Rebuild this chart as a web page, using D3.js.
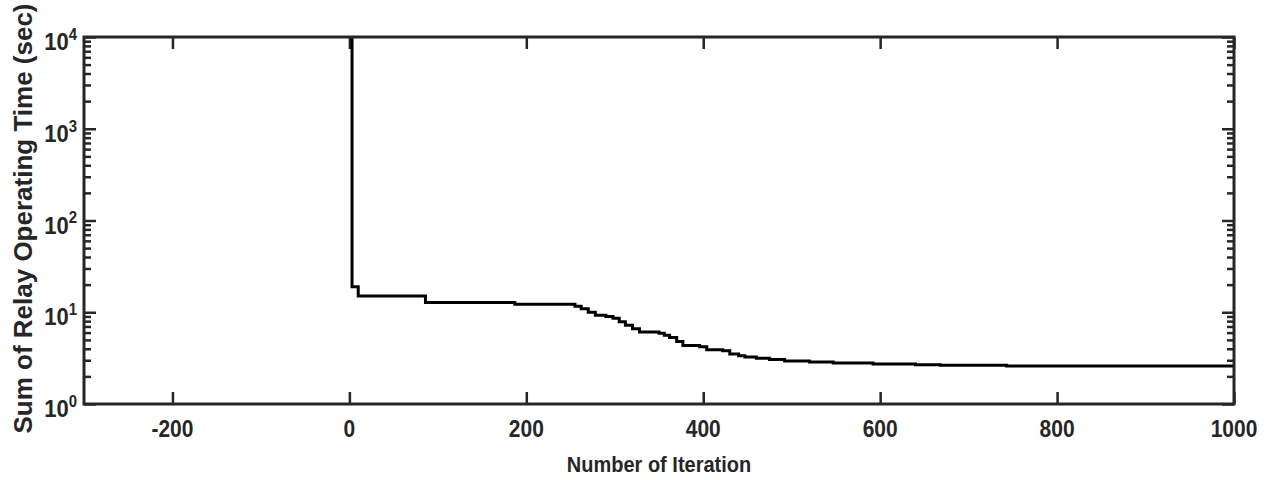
<!DOCTYPE html>
<html>
<head>
<meta charset="utf-8">
<script src="https://cdn.jsdelivr.net/npm/d3@7"></script>
<style>
    body { margin: 0; background: #fff; }
    text { font-family: "Liberation Sans", Arial, sans-serif; font-weight: bold; fill: #262626; }
</style>
</head>
<body>
<div id="chart"></div>
<script>
// best-so-far curve (step after each point)
const iterations = [1, 3, 10, 86, 187, 255, 262, 270, 278, 290, 298, 305, 312, 320, 328, 350, 356, 362, 370, 377, 396, 404, 422, 430, 440, 447, 460, 475, 492, 520, 547, 592, 640, 668, 743, 1000];
const sumTime = [10000, 19, 15, 12.8, 12.2, 11.6, 10.9, 10.0, 9.3, 9.0, 8.6, 7.9, 7.2, 6.6, 6.1, 5.9, 5.6, 5.3, 4.8, 4.35, 4.2, 3.9, 3.8, 3.5, 3.35, 3.25, 3.15, 3.05, 2.95, 2.87, 2.80, 2.73, 2.68, 2.65, 2.59, 2.59];

const xTicks = [-200, 0, 200, 400, 600, 800, 1000];
const yTicks = [1, 10, 100, 1000, 10000];
const yExponents = ["0", "1", "2", "3", "4"];

const margin = { top: 37, right: 39, bottom: 76, left: 84 };
const width = 1273 - margin.left - margin.right;
const height = 480 - margin.top - margin.bottom;
const ink = "#262626";
const stretch = 1.12; // the picture's lettering is a bit taller than wide

const svg = d3.select("#chart").append("svg")
    .attr("width", 1273)
    .attr("height", 480)
    .append("g")
    .attr("transform", `translate(${margin.left}, ${margin.top})`);

const x = d3.scaleLinear().domain([-300, 1000]).range([0, width]);
const y = d3.scaleLog().domain([1, 10000]).range([height, 0]);

// minor ticks 2..9 of each decade
const minorTicks = [];
for (let d = 0; d < 4; d++) {
    for (let k = 2; k <= 9; k++) minorTicks.push(k * Math.pow(10, d));
}

function styleAxis(g) {
    g.select(".domain").remove();
    g.selectAll("line").attr("stroke", ink).attr("stroke-width", 2.5);
}

// x ticks, bottom and top, pointing inward
svg.append("g")
    .attr("transform", `translate(0, ${height})`)
    .call(d3.axisBottom(x).tickValues(xTicks).tickSize(-12).tickFormat(""))
    .call(styleAxis);
svg.append("g")
    .call(d3.axisTop(x).tickValues(xTicks).tickSize(-12).tickFormat(""))
    .call(styleAxis);

// y ticks, left and right, major and minor
svg.append("g")
    .call(d3.axisLeft(y).tickValues(yTicks).tickSize(-12).tickFormat(""))
    .call(styleAxis);
svg.append("g")
    .call(d3.axisLeft(y).tickValues(minorTicks).tickSize(-7).tickFormat(""))
    .call(styleAxis);
svg.append("g")
    .attr("transform", `translate(${width}, 0)`)
    .call(d3.axisRight(y).tickValues(yTicks).tickSize(-12).tickFormat(""))
    .call(styleAxis);
svg.append("g")
    .attr("transform", `translate(${width}, 0)`)
    .call(d3.axisRight(y).tickValues(minorTicks).tickSize(-7).tickFormat(""))
    .call(styleAxis);

// x tick labels
svg.selectAll(".xlabel")
    .data(xTicks)
    .enter()
    .append("text")
    .attr("transform", d => `translate(${x(d)}, ${height + 33}) scale(1, ${stretch})`)
    .attr("text-anchor", "middle")
    .style("font-size", "21px")
    .text(d => d);

// y tick labels as 10 with superscript
const yLab = svg.selectAll(".ylabel")
    .data(yTicks)
    .enter()
    .append("text")
    .attr("transform", d => `translate(-7, ${y(d) + 13}) scale(1, ${stretch})`)
    .attr("text-anchor", "end")
    .style("font-size", "22px");
yLab.append("tspan").text("10");
yLab.append("tspan")
    .attr("dy", -9)
    .style("font-size", "15px")
    .text((d, i) => yExponents[i]);

// curve
svg.append("clipPath").attr("id", "plotArea")
    .append("rect").attr("width", width).attr("height", height);

const line = d3.line()
    .x(d => x(d[0]))
    .y(d => y(d[1]))
    .curve(d3.curveStepAfter);

svg.append("path")
    .datum(iterations.map((it, i) => [it, sumTime[i]]))
    .attr("clip-path", "url(#plotArea)")
    .attr("fill", "none")
    .attr("stroke", "#000")
    .attr("stroke-width", 3)
    .attr("d", line);

// box
svg.append("rect")
    .attr("width", width)
    .attr("height", height)
    .attr("fill", "none")
    .attr("stroke", ink)
    .attr("stroke-width", 3);

// axis titles
svg.append("text")
    .attr("transform", `translate(${width / 2}, ${height + 68}) scale(1, ${stretch})`)
    .attr("text-anchor", "middle")
    .style("font-size", "20px")
    .text("Number of Iteration");

svg.append("text")
    .attr("transform", `translate(${32 - margin.left}, ${height / 2 - 2}) rotate(-90)`)
    .attr("text-anchor", "middle")
    .style("font-size", "26px")
    .text("Sum of Relay Operating Time (sec)");
</script>
</body>
</html>
